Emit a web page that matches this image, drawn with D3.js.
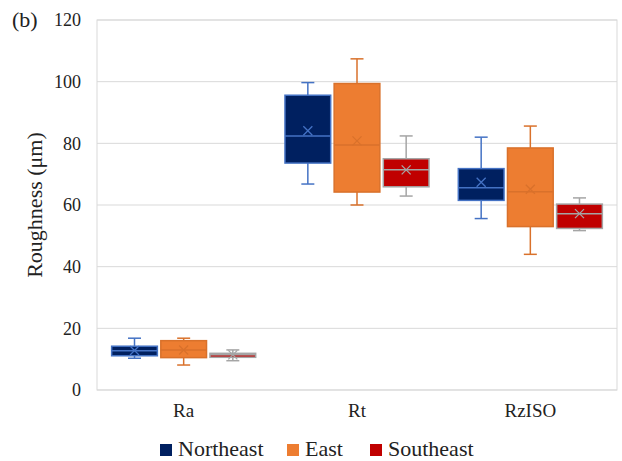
<!DOCTYPE html>
<html>
<head>
<meta charset="utf-8">
<script src="https://cdn.jsdelivr.net/npm/d3@7"></script>
</head>
<body style="margin:0">
<svg id="chart" width="622" height="461"></svg>
<script>
const categories = ["Ra", "Rt", "RzISO"];
const seriesNames = ["Northeast", "East", "Southeast"];
// each: [whiskerLow, q1, median, q3, whiskerHigh, mean]
const northeastStats = [
  [10.3, 11.1, 12.7, 14.2, 16.8, 12.8],
  [66.8, 73.6, 82.4, 95.6, 99.7, 84.1],
  [55.6, 61.5, 65.6, 71.8, 82.0, 67.4]
];
const eastStats = [
  [8.1, 10.5, 13.0, 16.0, 16.8, 13.0],
  [60.0, 64.2, 79.5, 99.4, 107.4, 80.8],
  [44.0, 53.0, 64.3, 78.5, 85.6, 65.1]
];
const southeastStats = [
  [9.5, 10.6, 11.4, 11.9, 13.0, 11.4],
  [62.9, 65.9, 71.4, 75.0, 82.4, 71.4],
  [51.7, 52.4, 57.2, 60.3, 62.3, 57.2]
];
const yTicks = [0, 20, 40, 60, 80, 100, 120];
const fills = ["#002060", "#ed7d31", "#c00000"];
const strokes = ["#4472c4", "#d9712b", "#a5a5a5"];

const statsBySeries = [northeastStats, eastStats, southeastStats];
const FONT = "Liberation Serif";

const svg = d3.select("#chart");
const m = { left: 97, right: 617, top: 20, bottom: 390 };

const x = d3.scaleBand().domain(categories).range([m.left, m.right])
  .paddingInner(0.169).paddingOuter(0.0845);
const xi = d3.scaleBand().domain(seriesNames).range([0, x.bandwidth()]).paddingInner(0.07);
const y = d3.scaleLinear().domain([0, 120]).range([m.bottom, m.top]);

// gridlines
svg.append("g").selectAll("line").data(yTicks).join("line")
  .attr("x1", m.left).attr("x2", m.right)
  .attr("y1", d => y(d)).attr("y2", d => y(d))
  .attr("stroke", "#d9d9d9").attr("stroke-width", 1);
svg.append("rect").attr("x", m.left).attr("y", m.top)
  .attr("width", m.right - m.left).attr("height", m.bottom - m.top)
  .attr("fill", "none").attr("stroke", "#d9d9d9").attr("stroke-width", 1);

// y axis
const gy = svg.append("g").attr("transform", `translate(${m.left},0)`)
  .call(d3.axisLeft(y).tickValues(yTicks).tickSize(0).tickPadding(16));
gy.select(".domain").remove();
gy.attr("font-family", FONT).attr("font-size", 18);
gy.selectAll("text").style("font-family", FONT).attr("fill", "#222");

// x axis
const gx = svg.append("g").attr("transform", `translate(0,${m.bottom})`)
  .call(d3.axisBottom(x).tickSize(0).tickPadding(14));
gx.select(".domain").remove();
gx.attr("font-family", FONT).attr("font-size", 19);
gx.selectAll("text").style("font-family", FONT).attr("fill", "#222");

// boxes
seriesNames.forEach((s, si) => {
  const g = svg.append("g");
  statsBySeries[si].forEach((st, ci) => {
    const [lo, q1, med, q3, hi, mean] = st;
    const x0 = x(categories[ci]) + xi(s);
    const w = xi.bandwidth();
    const cx = x0 + w / 2;
    const cap = 13;
    const col = strokes[si];
    g.append("line").attr("x1", cx).attr("x2", cx).attr("y1", y(hi)).attr("y2", y(q3)).attr("stroke", col).attr("stroke-width", 1.5);
    g.append("line").attr("x1", cx).attr("x2", cx).attr("y1", y(q1)).attr("y2", y(lo)).attr("stroke", col).attr("stroke-width", 1.5);
    g.append("line").attr("x1", cx - cap / 2).attr("x2", cx + cap / 2).attr("y1", y(hi)).attr("y2", y(hi)).attr("stroke", col).attr("stroke-width", 1.5);
    g.append("line").attr("x1", cx - cap / 2).attr("x2", cx + cap / 2).attr("y1", y(lo)).attr("y2", y(lo)).attr("stroke", col).attr("stroke-width", 1.5);
    g.append("rect").attr("x", x0).attr("y", y(q3)).attr("width", w).attr("height", y(q1) - y(q3))
      .attr("fill", fills[si]).attr("stroke", col).attr("stroke-width", 1.5);
    g.append("line").attr("x1", x0).attr("x2", x0 + w).attr("y1", y(med)).attr("y2", y(med)).attr("stroke", col).attr("stroke-width", 1.5);
    const r = 4.5;
    g.append("path").attr("d", `M${cx - r},${y(mean) - r}L${cx + r},${y(mean) + r}M${cx - r},${y(mean) + r}L${cx + r},${y(mean) - r}`)
      .attr("stroke", col).attr("stroke-width", 1.3).attr("fill", "none");
  });
});

// y label
svg.append("text").attr("transform", "translate(42,205) rotate(-90)")
  .attr("text-anchor", "middle").style("font-family", FONT).attr("font-size", 22).attr("fill", "#222")
  .text("Roughness (μm)");

// panel label
svg.append("text").attr("x", 12).attr("y", 27).style("font-family", FONT).attr("font-size", 22).attr("fill", "#222").text("(b)");

// legend
const legendX = [160, 287, 370];
const lg = svg.append("g");
seriesNames.forEach((s, i) => {
  lg.append("rect").attr("x", legendX[i]).attr("y", 444).attr("width", 12).attr("height", 12).attr("fill", fills[i]);
  lg.append("text").attr("x", legendX[i] + 18).attr("y", 456).style("font-family", FONT).attr("font-size", 22).attr("fill", "#222").text(s);
});
</script>
</body>
</html>
